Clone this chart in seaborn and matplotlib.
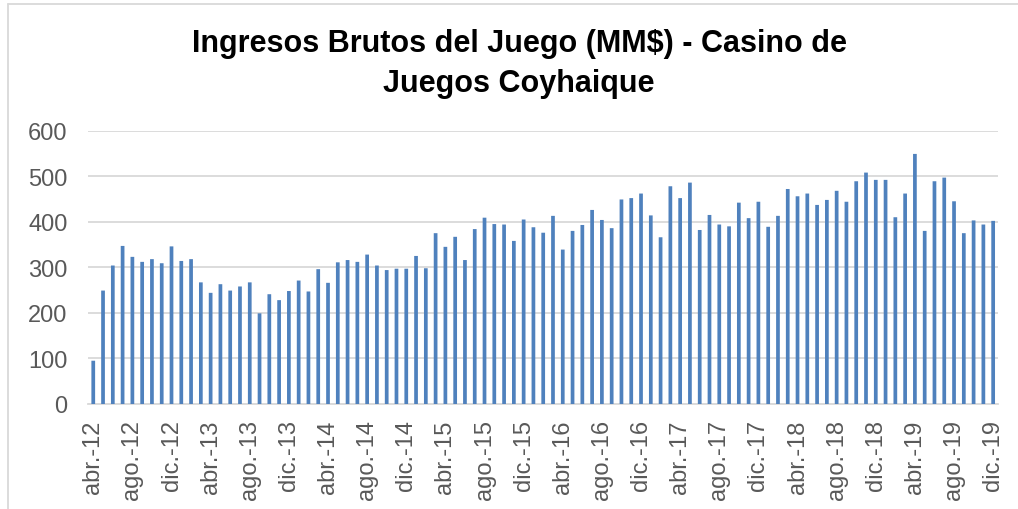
import matplotlib
matplotlib.use("Agg")
import matplotlib.pyplot as plt
from matplotlib.lines import Line2D
import pandas as pd
import seaborn as sns

# ─── Data ────────────────────────────────────────────────────────────────────
MESES = ["ene.", "feb.", "mar.", "abr.", "may.", "jun.",
         "jul.", "ago.", "sept.", "oct.", "nov.", "dic."]
ANIOS = [12, 13, 14, 15, 16, 17, 18, 19]

# abr.-12 ... dic.-19 (93 meses)
periodos = [f"{m}-{a}" for a in ANIOS for m in MESES][3:]

ingresos = [
    95, 249, 304, 347, 323, 312, 318, 309, 346, 314, 318,            # 2012
    267, 244, 263, 249, 258, 267, 199, 241, 228, 248, 271, 247,      # 2013
    296, 266, 311, 316, 312, 328, 304, 294, 297, 297, 325, 298,      # 2014
    375, 345, 367, 316, 384, 409, 395, 394, 358, 405, 388, 376,      # 2015
    413, 339, 380, 393, 426, 404, 386, 449, 452, 462, 414, 366,      # 2016
    478, 452, 486, 382, 415, 394, 390, 442, 408, 444, 389, 413,      # 2017
    472, 456, 462, 437, 448, 468, 444, 489, 508, 492, 492, 410,      # 2018
    462, 549, 380, 489, 497, 445, 375, 403, 394, 402,                # 2019
]

Y_TICKS = [0, 100, 200, 300, 400, 500, 600]
TITULO = "Ingresos Brutos del Juego (MM$) - Casino de\nJuegos Coyhaique"

BAR_COLOR  = "#4F81BD"
GRID_COLOR = "#D9D9D9"
TEXT_GRAY  = "#595959"

df = pd.DataFrame({"periodo": periodos, "ingreso": ingresos})

# ─── Plot ────────────────────────────────────────────────────────────────────
sns.set_style("white")
plt.rcParams["font.family"] = ["Liberation Sans", "DejaVu Sans"]

fig = plt.figure(figsize=(10.18, 5.10), dpi=100)
ax = fig.add_axes([0.0868, 0.2059, 0.8936, 0.5359])

sns.barplot(data=df, x="periodo", y="ingreso", color=BAR_COLOR,
            width=0.38, saturation=1, linewidth=0, ax=ax, zorder=3)
for bar in ax.patches:
    bar.set_snap(False)

ax.set_xlim(-0.5, len(periodos) - 0.5)
ax.set_ylim(0, 600)
ax.set_yticks(Y_TICKS)
ax.set_yticklabels([str(v) for v in Y_TICKS], fontsize=17, color=TEXT_GRAY)
ax.yaxis.grid(True, color=GRID_COLOR, linewidth=1.3, zorder=0)
ax.set_axisbelow(True)

# labels every 4 months, tick marks on category boundaries
pos = list(range(0, len(periodos), 4))
ax.set_xticks(pos)
ax.set_xticklabels([periodos[i] for i in pos], rotation=90,
                   fontsize=17, color=TEXT_GRAY)
ax.tick_params(axis="x", which="major", length=0, pad=11)
ax.set_xticks([p - 0.5 for p in pos], minor=True)
ax.tick_params(axis="x", which="minor", length=6, width=1.3, color=GRID_COLOR)
ax.tick_params(axis="y", length=0, pad=15)

ax.set_xlabel("")
ax.set_ylabel("")
for side in ["top", "right", "left"]:
    ax.spines[side].set_visible(False)
ax.spines["bottom"].set_color(GRID_COLOR)
ax.spines["bottom"].set_linewidth(1.3)

fig.text(0.51, 0.874, TITULO, ha="center", va="center",
         fontsize=22, fontweight="bold", color="black", linespacing=1.42)

# chart area border (left + top)
fig.add_artist(Line2D([8 / 1018, 8 / 1018], [0, 1 - 5 / 510],
                      color=GRID_COLOR, linewidth=1.3))
fig.add_artist(Line2D([8 / 1018, 1], [1 - 5 / 510, 1 - 5 / 510],
                      color=GRID_COLOR, linewidth=1.3))

fig.savefig("out.png", dpi=100)
